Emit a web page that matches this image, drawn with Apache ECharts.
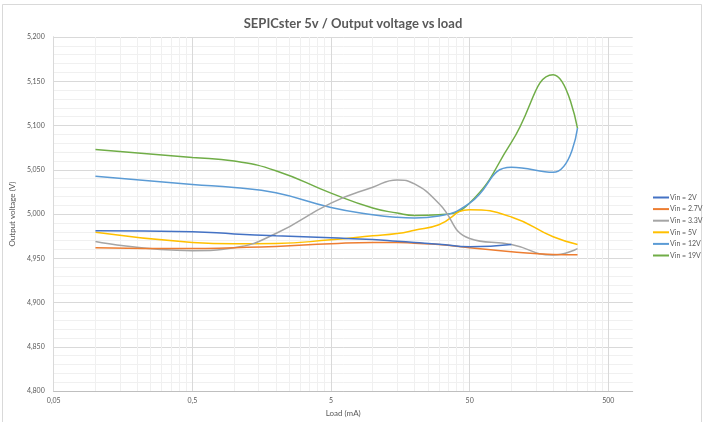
<!DOCTYPE html>
<html>
<head>
<meta charset="utf-8">
<script src="https://cdn.jsdelivr.net/npm/echarts@6/dist/echarts.min.js"></script>
<style>
  html, body { margin: 0; padding: 0; background: #ffffff; }
  #chart { width: 707px; height: 422px; }
</style>
</head>
<body>
<div id="chart"></div>
<script>
// Load points (mA), shared by every curve
const loads = [0.1, 0.5, 1, 2, 5, 10, 15, 20, 30, 50, 100, 200, 300];

// Output voltage (V) for each input voltage
const vin2V  = [4.981, 4.980, 4.9776, 4.9754, 4.9731, 4.9712, 4.9693, 4.9679, 4.966, 4.963, 4.9656];
const vin27V = [4.962, 4.961, 4.962, 4.9634, 4.9664, 4.9679, 4.9679, 4.967, 4.9656, 4.962, 4.9574, 4.9544, 4.954];
const vin33V = [4.969, 4.9586, 4.962, 4.978, 5.0124, 5.0303, 5.0385, 5.034, 5.012, 4.9724, 4.9656, 4.9537, 4.961];
const vin5V  = [4.9795, 4.968, 4.9664, 4.9667, 4.971, 4.9754, 4.978, 4.9817, 4.988, 5.0049, 4.9967, 4.9743, 4.9657];
const vin12V = [5.0427, 5.0333, 5.030, 5.024, 5.0075, 4.9993, 4.9963, 4.9956, 4.9978, 5.0124, 5.0528, 5.0472, 5.097];
const vin19V = [5.073, 5.064, 5.0598, 5.049, 5.0236, 5.0068, 5.0012, 4.9985, 4.9993, 5.0124, 5.081, 5.1574, 5.0968];

const seriesNames = ['Vin = 2V', 'Vin = 2.7V', 'Vin = 3.3V', 'Vin = 5V', 'Vin = 12V', 'Vin = 19V'];
const seriesValues = [vin2V, vin27V, vin33V, vin5V, vin12V, vin19V];
const seriesColors = ['#4472C4', '#ED7D31', '#A5A5A5', '#FFC000', '#5B9BD5', '#70AD47'];

// Log axis labels (decades starting at 0.05 mA)
const xMajorTicks = [0.05, 0.5, 5, 50, 500];
const xMinorTicks = [];
xMajorTicks.forEach(function (d) {
  for (let k = 2; k <= 9; k++) {
    const v = +(d * k).toPrecision(6);
    if (v < 750) xMinorTicks.push(v);
  }
});

const yMin = 4.8, yMax = 5.2, yStep = 0.05;

const FONT = 'Lato, "Open Sans", sans-serif';
const TEXT = '#595959';

const chart = echarts.init(document.getElementById('chart'), null, { renderer: 'canvas' });

const series = seriesNames.map(function (name, i) {
  return {
    name: name,
    type: 'line',
    xAxisIndex: 1,
    smooth: 0.5,
    symbol: 'none',
    lineStyle: { width: 1.5, color: seriesColors[i] },
    itemStyle: { color: seriesColors[i] },
    data: seriesValues[i].map(function (v, j) { return [loads[j], v]; }),
    z: 10 - i
  };
});

chart.setOption({
  animation: false,
  backgroundColor: '#ffffff',
  graphic: [{
    type: 'rect',
    shape: { x: 2.5, y: 4.5, width: 699, height: 440 },
    style: { fill: 'none', stroke: '#d9d9d9', lineWidth: 1 },
    silent: true,
    z: -1
  }],
  title: {
    text: 'SEPICster 5v / Output voltage vs load',
    left: 348,
    textAlign: 'center',
    top: 12,
    textStyle: { fontFamily: FONT, fontWeight: 'bold', fontSize: 13, color: TEXT }
  },
  legend: {
    orient: 'vertical',
    left: 648,
    top: 189,
    itemWidth: 16,
    itemHeight: 6,
    itemGap: 4.6,
    icon: 'path://M0,0 L16,0 L16,2 L0,2 Z',
    textStyle: { fontFamily: FONT, fontSize: 7, color: TEXT, padding: [0, 0, 0, -4] },
    data: seriesNames
  },
  grid: { left: 44, right: 74.3, top: 37, bottom: 28.3, containLabel: false },
  xAxis: [
    {
      // minor vertical gridlines
      type: 'log',
      logBase: 10,
      position: 'bottom',
      min: 0.05,
      max: 750,
      z: 0,
      axisLine: { show: false },
      axisLabel: { show: false },
      axisTick: { show: false, customValues: xMinorTicks },
      splitLine: { show: true, lineStyle: { color: '#f0f0f0', width: 1 } }
    },
    {
      type: 'log',
      logBase: 10,
      position: 'bottom',
      offset: 0,
      min: 0.05,
      max: 750,
      z: 1,
      name: 'Load (mA)',
      nameLocation: 'middle',
      nameGap: 16,
      nameTextStyle: { fontFamily: FONT, fontSize: 8, color: TEXT },
      axisLine: { show: true, lineStyle: { color: '#bfbfbf', width: 1 } },
      axisTick: { show: false, customValues: xMajorTicks },
      axisLabel: {
        customValues: xMajorTicks,
        fontFamily: FONT, fontSize: 7, color: TEXT, margin: 6,
        formatter: function (v) { return String(+v.toPrecision(6)).replace('.', ','); }
      },
      splitLine: { show: true, lineStyle: { color: '#d9d9d9', width: 1 } }
    }
  ],
  yAxis: {
    type: 'value',
    min: yMin,
    max: yMax,
    interval: yStep,
    name: 'Output voltage (V)',
    nameLocation: 'middle',
    nameGap: 25,
    nameTextStyle: { fontFamily: FONT, fontSize: 8, color: TEXT },
    axisLine: { show: true, lineStyle: { color: '#bfbfbf', width: 1 } },
    axisTick: { show: false },
    axisLabel: {
      fontFamily: FONT, fontSize: 7, color: TEXT, margin: 9,
      formatter: function (v) { return v.toFixed(3).replace('.', ','); }
    },
    splitLine: { show: true, lineStyle: { color: '#d9d9d9', width: 1 } },
    minorTick: { show: false, splitNumber: 5 },
    minorSplitLine: { show: true, lineStyle: { color: '#f0f0f0', width: 1 } }
  },
  series: series
});
</script>
</body>
</html>
